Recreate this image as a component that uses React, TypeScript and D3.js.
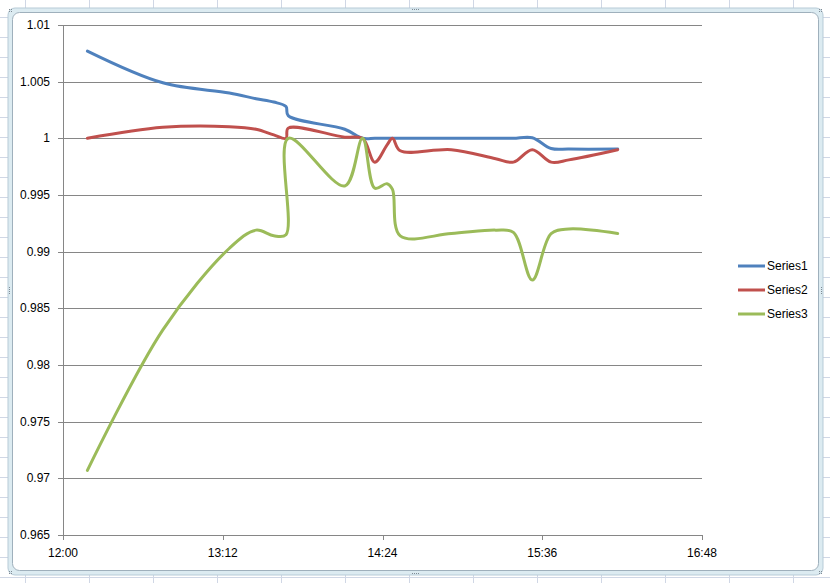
import React from "react";
import * as d3 from "d3";

const times = [
  "12:11:00", "12:45:00", "13:15:00", "13:27:00", "13:35:00", "13:40:30", "13:41:30",
  "14:07:00", "14:15:00", "14:20:30", "14:26:00", "14:28:30", "14:32:00", "14:55:00",
  "15:15:00", "15:23:00", "15:31:30", "15:40:00", "15:48:00", "16:10:00",
];
const series1 = [
  1.0077, 1.0049, 1.004, 1.0035, 1.0032, 1.0028, 1.002, 1.0008, 1.0, 1.0, 1.0, 1.0, 1.0, 1.0,
  1.0, 1.0, 1.00005, 0.9991, 0.99905, 0.99905,
];
const series2 = [
  1.0, 1.00097, 1.00103, 1.0008, 1.0003, 1.0, 1.0009, 1.0001, 1.0, 0.9979, 0.9994, 1.0, 0.9989,
  0.999, 0.9982, 0.9979, 0.999, 0.9979, 0.9981, 0.999,
];
const series3 = [
  0.9707, 0.9831, 0.9903, 0.9919, 0.9914, 0.9915, 1.0, 0.9958, 1.0, 0.9956, 0.996, 0.9955,
  0.9914, 0.9916, 0.9919, 0.9917, 0.9875, 0.9916, 0.992, 0.9916,
];
const seriesNames = ["Series1", "Series2", "Series3"];
const seriesColors = ["#4F81BD", "#C0504D", "#9BBB59"];
const yTicks = [0.965, 0.97, 0.975, 0.98, 0.985, 0.99, 0.995, 1, 1.005, 1.01];
const xTickLabels = ["12:00", "13:12", "14:24", "15:36", "16:48"];

const W = 830;
const H = 583;
const FONT = "'Liberation Sans', Arial, sans-serif";

export default function App() {
  const parse = d3.timeParse("%H:%M:%S");
  const parseTick = d3.timeParse("%H:%M");
  const dates = times.map((t) => parse(t) as Date);
  const tickDates = xTickLabels.map((t) => parseTick(t) as Date);

  const x = d3.scaleTime().domain([tickDates[0], tickDates[tickDates.length - 1]]).range([63, 702]);
  const y = d3.scaleLinear().domain([0.965, 1.01]).range([535, 25]);

  const allSeries = [series1, series2, series3];
  const line = d3
    .line<[Date, number]>()
    .x((d) => x(d[0]))
    .y((d) => y(d[1]))
    .curve(d3.curveCatmullRom.alpha(0.5));

  const fmtY = (v: number) => d3.format("")(+v.toFixed(3));

  const colLines = d3.range(25, W, 64);
  const rowLines = d3.range(17, H, 20);

  const handleDotsH = (cx: number, cy: number) =>
    d3.range(4).map((i) => (
      <rect key={`h${cx}-${cy}-${i}`} x={cx - 4 + i * 2} y={cy} width={1} height={1} fill="#7f8b95" />
    ));
  const handleDotsV = (cx: number, cy: number) =>
    d3.range(4).map((i) => (
      <rect key={`v${cx}-${cy}-${i}`} x={cx} y={cy - 4 + i * 2} width={1} height={1} fill="#7f8b95" />
    ));
  const cornerDots = (cx: number, cy: number) =>
    [0, 2].flatMap((dx) =>
      [0, 2].map((dy) => (
        <rect key={`c${cx}-${cy}-${dx}-${dy}`} x={cx + dx} y={cy + dy} width={1} height={1} fill="#7f8b95" />
      ))
    );

  return (
    <svg
      width={W}
      height={H}
      style={{ position: "absolute", left: 0, top: 0, display: "block" }}
      fontFamily={FONT}
    >
      <rect x={0} y={0} width={W} height={H} fill="#ffffff" />
      {colLines.map((cx) => (
        <line key={`col${cx}`} x1={cx + 0.5} x2={cx + 0.5} y1={0} y2={H} stroke="#d0d7e5" />
      ))}
      {rowLines.map((ry) => (
        <line key={`row${ry}`} x1={0} x2={W} y1={ry + 0.5} y2={ry + 0.5} stroke="#d0d7e5" />
      ))}

      {/* chart frame */}
      <rect x={8} y={8} width={815} height={567} rx={7} fill="#dcebf1" stroke="#b7cbd7" strokeWidth={1} />
      <rect x={12.5} y={12.5} width={806} height={558} rx={7} fill="#ffffff" stroke="#9fb0bc" strokeWidth={1} />
      {handleDotsH(416, 9)}
      {handleDotsH(416, 573)}
      {handleDotsV(9, 291)}
      {handleDotsV(821, 291)}
      {cornerDots(9, 9)}
      {cornerDots(819, 9)}
      {cornerDots(9, 571)}
      {cornerDots(819, 571)}

      {/* gridlines */}
      {yTicks.map((v) => (
        <line
          key={`g${v}`}
          x1={63}
          x2={702}
          y1={Math.round(y(v)) + 0.5}
          y2={Math.round(y(v)) + 0.5}
          stroke="#868686"
          strokeWidth={1}
        />
      ))}
      {/* y axis */}
      <line x1={63.5} x2={63.5} y1={y(1.01)} y2={y(0.965) + 0.5} stroke="#868686" />
      {yTicks.map((v) => (
        <g key={`yt${v}`}>
          <line x1={58} x2={63} y1={Math.round(y(v)) + 0.5} y2={Math.round(y(v)) + 0.5} stroke="#868686" />
          <text x={50} y={Math.round(y(v)) + 4} textAnchor="end" fontSize={12} fill="#000">
            {fmtY(v)}
          </text>
        </g>
      ))}
      {/* x axis ticks */}
      {tickDates.map((d, i) => (
        <g key={`xt${i}`}>
          <line
            x1={Math.round(x(d)) + 0.5}
            x2={Math.round(x(d)) + 0.5}
            y1={535}
            y2={540}
            stroke="#868686"
          />
          <text x={x(d)} y={557} textAnchor="middle" fontSize={12} fill="#000">
            {xTickLabels[i]}
          </text>
        </g>
      ))}

      {/* series lines */}
      {allSeries.map((vals, si) => {
        const pts: [Date, number][] = dates.map((d, i) => [d, vals[i]]);
        return (
          <path
            key={`s${si}`}
            d={line(pts) || ""}
            fill="none"
            stroke={seriesColors[si]}
            strokeWidth={3}
            strokeLinejoin="round"
            strokeLinecap="round"
          />
        );
      })}

      {/* legend */}
      {seriesNames.map((name, i) => {
        const ly = 266 + i * 24;
        return (
          <g key={`leg${i}`}>
            <line x1={738} x2={765} y1={ly} y2={ly} stroke={seriesColors[i]} strokeWidth={3} />
            <text x={767} y={ly + 4} fontSize={12} fill="#000">
              {name}
            </text>
          </g>
        );
      })}
    </svg>
  );
}
